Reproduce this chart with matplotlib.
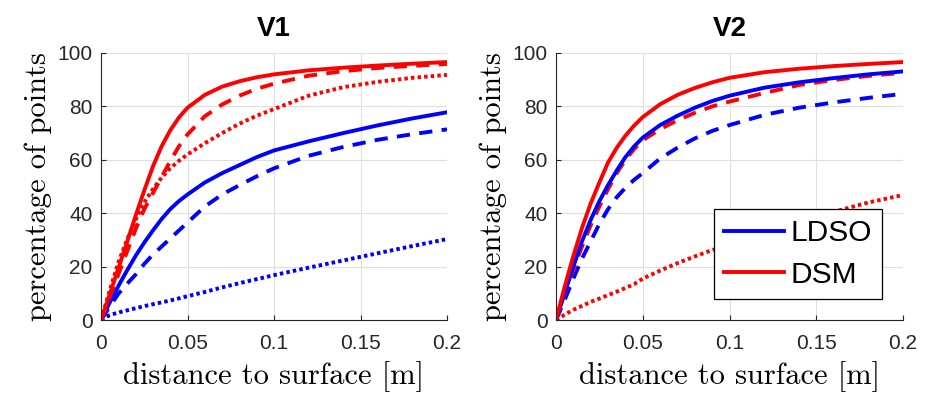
import matplotlib
matplotlib.use("Agg")
import matplotlib.pyplot as plt

# distance to surface [m]
dist = [0, 0.005, 0.01, 0.015, 0.02, 0.025, 0.03, 0.035, 0.04, 0.045, 0.05,
        0.06, 0.07, 0.08, 0.09, 0.1, 0.12, 0.14, 0.16, 0.18, 0.2]

# V1, percentage of points
v1_dsm_solid = [0, 9.5, 19.3, 29, 39, 48.5, 57.5, 65, 71, 75.8, 79.5,
                84.3, 87.4, 89.4, 90.9, 92.0, 93.5, 94.5, 95.3, 96.0, 96.6]
v1_dsm_dash = [0, 8.5, 17, 25.5, 34, 41.5, 47.5, 53.5, 59.5, 65, 69.5,
               76.3, 80.7, 84, 86.6, 88.5, 91.5, 93.2, 94.4, 95.2, 95.9]
v1_dsm_dot = [0, 11, 21.5, 30, 37.5, 44, 49, 53.3, 56.8, 59.6, 62,
              66.2, 70, 73.5, 76.5, 79, 84, 87.2, 89.2, 90.7, 91.8]
v1_ldso_solid = [0, 6.5, 12.7, 18.5, 24, 29, 33.5, 37.8, 41.5, 44.5, 47,
                 51.5, 55, 58, 61, 63.5, 66.9, 70, 72.9, 75.5, 77.8]
v1_ldso_dash = [0, 5, 9.8, 13.5, 17, 21, 24.5, 27.5, 30.5, 33.5, 36.5,
                42.5, 47, 50.5, 53.8, 56.8, 61.5, 64.8, 67.5, 69.6, 71.4]
v1_ldso_dot = [0, 1.8, 2.8, 3.6, 4.4, 5.2, 5.9, 6.6, 7.3, 8.1, 8.9,
               10.5, 12.2, 13.8, 15.3, 16.8, 19.6, 22.3, 25, 27.7, 30.3]

# V2, percentage of points
v2_dsm_solid = [0, 12.5, 24, 34.5, 43.7, 51.5, 59, 64.5, 69, 72.8, 76,
                80.8, 84.3, 86.9, 89, 90.7, 92.8, 94.1, 95.1, 95.9, 96.6]
v2_dsm_dash = [0, 9.5, 19, 27.5, 35.5, 42.5, 49, 55, 60, 64, 67.3,
               71.5, 74.8, 77.6, 80, 81.8, 85, 88, 89.9, 91.4, 92.6]
v2_dsm_dot = [0, 2, 3.8, 5.3, 6.8, 8, 9.3, 10.6, 12, 13.4, 15.5,
              18.5, 21.3, 23.8, 26.2, 28, 32.3, 36.5, 40.5, 44, 46.8]
v2_ldso_solid = [0, 10, 20, 29.5, 37.5, 44.5, 50.5, 56, 61, 65, 68.3,
                 73, 76.5, 79.5, 82, 84, 87, 89, 90.6, 92, 93.1]
v2_ldso_dash = [0, 7.5, 15.5, 23, 29.5, 36, 41.5, 46, 49.5, 52.5, 55,
                60.5, 64.5, 68, 70.8, 73, 76.8, 79.5, 81.5, 83.2, 84.7]

titles = ["V1", "V2"]
xticks = [0, 0.05, 0.1, 0.15, 0.2]
xticklabels = ["0", "0.05", "0.1", "0.15", "0.2"]
yticks = [0, 20, 40, 60, 80, 100]

BLUE = (0, 0, 1)
RED = (1, 0, 0)
AX_COL = "#262626"
LW = 2.8
dot_style = (0, (0.9, 0.8))
dash_style = (0, (3.4, 2.4))

fig = plt.figure(figsize=(9.35, 4.07), dpi=100)
ax1 = fig.add_axes([101 / 935, 87 / 407, 346 / 935, 267 / 407])
ax2 = fig.add_axes([556 / 935, 87 / 407, 347 / 935, 267 / 407])

ax1.plot(dist, v1_ldso_dot, color=BLUE, lw=LW, linestyle=dot_style)
ax1.plot(dist, v1_ldso_dash, color=BLUE, lw=LW, linestyle=dash_style)
ax1.plot(dist, v1_ldso_solid, color=BLUE, lw=LW)
ax1.plot(dist, v1_dsm_dot, color=RED, lw=LW, linestyle=dot_style)
ax1.plot(dist, v1_dsm_dash, color=RED, lw=LW, linestyle=dash_style)
ax1.plot(dist, v1_dsm_solid, color=RED, lw=LW)

ax2.plot(dist, v2_dsm_dot, color=RED, lw=LW, linestyle=dot_style)
ax2.plot(dist, v2_ldso_dash, color=BLUE, lw=LW, linestyle=dash_style)
ax2.plot(dist, v2_dsm_dash, color=RED, lw=LW, linestyle=dash_style)
l_ldso, = ax2.plot(dist, v2_ldso_solid, color=BLUE, lw=LW, label="LDSO")
l_dsm, = ax2.plot(dist, v2_dsm_solid, color=RED, lw=LW, label="DSM")

for ax, title in zip([ax1, ax2], titles):
    ax.set_xlim(0, 0.2)
    ax.set_ylim(0, 100)
    ax.set_xticks(xticks)
    ax.set_xticklabels(xticklabels)
    ax.set_yticks(yticks)
    ax.grid(True, color="#dfdfdf", lw=0.8)
    ax.set_axisbelow(True)
    for s in ["top", "right"]:
        ax.spines[s].set_visible(False)
    for s in ["left", "bottom"]:
        ax.spines[s].set_color(AX_COL)
        ax.spines[s].set_linewidth(0.8)
    ax.tick_params(direction="in", length=3.5, width=0.8, color=AX_COL,
                   labelcolor=AX_COL, labelsize=15, pad=6)
    ax.tick_params(axis="x", pad=10)
    for lab in ax.get_xticklabels() + ax.get_yticklabels():
        lab.set_family("Liberation Sans")
    ax.set_title(title, fontsize=20, fontweight="bold",
                 family="Liberation Sans", pad=12)
    ax.set_xlabel("distance to surface [m]", family="cmr10", fontsize=22,
                  labelpad=6)
    ax.set_ylabel("percentage of points", family="cmr10", fontsize=22,
                  labelpad=4)

leg = ax2.legend(handles=[l_ldso, l_dsm], loc="lower right",
                 bbox_to_anchor=(0.9395, 0.0787), borderaxespad=0,
                 prop={"family": "Liberation Sans", "size": 21.5},
                 fancybox=False, framealpha=1, edgecolor="black",
                 handlelength=2.0, handletextpad=0.2, borderpad=0.35,
                 labelspacing=0.45)
leg.get_frame().set_linewidth(0.9)

fig.savefig("out.png", dpi=100)
